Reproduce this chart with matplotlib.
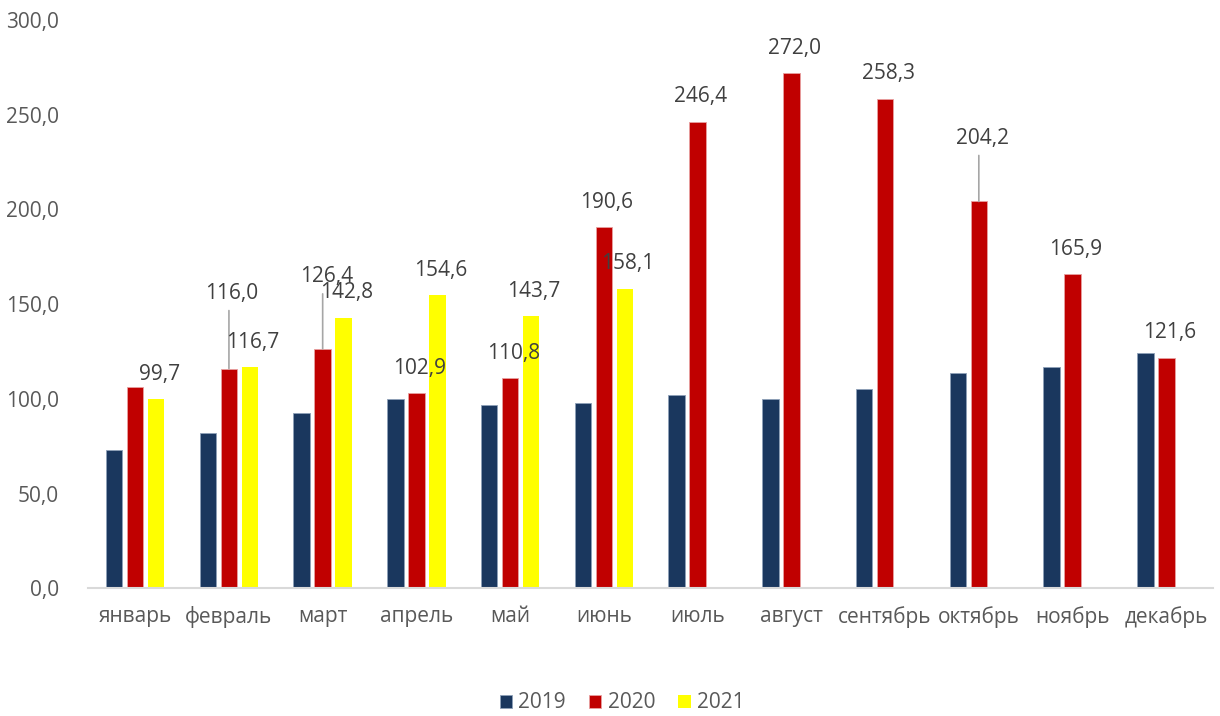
import numpy as np
import matplotlib.pyplot as plt

plt.rcParams['font.family'] = ['Open Sans', 'DejaVu Sans']

months = ['январь', 'февраль', 'март', 'апрель', 'май', 'июнь',
          'июль', 'август', 'сентябрь', 'октябрь', 'ноябрь', 'декабрь']
years = ['2019', '2020', '2021']

v2019 = [73.0, 81.8, 92.7, 99.9, 96.8, 98.0, 101.9, 99.8, 105.4, 113.8, 116.8, 124.1]
v2020 = [106.3, 116.0, 126.4, 102.9, 110.8, 190.6, 246.4, 272.0, 258.3, 204.2, 165.9, 121.6]
v2021 = [99.7, 116.7, 142.8, 154.6, 143.7, 158.1]

# which values carry a label (Jan 2020 has none on the chart)
labels_2020 = [None, 116.0, 126.4, 102.9, 110.8, 190.6, 246.4, 272.0, 258.3, 204.2, 165.9, 121.6]
labels_2021 = v2021

colors = ['#1a375e', '#c00000', '#ffff00']

# label offsets in pixels (dx, dy) for the ones moved off the bar, with leader line
moved_2020 = {1: (3, 75), 2: (4, 72), 9: (4, 63)}

fig = plt.figure(figsize=(12.2, 7.16), dpi=100)
ax = fig.add_axes([0.0724, 0.1783, 0.922, 0.7938])

x = np.arange(len(months))
step = 0.224
width = 0.176
fs = 15

b19 = ax.bar(x - step, v2019, width, color=colors[0], edgecolor='#8ea0b8', linewidth=0.6, label=years[0])
b20 = ax.bar(x, v2020, width, color=colors[1], edgecolor='#e8a0a0', linewidth=0.6, label=years[1])
b21 = ax.bar(x[:len(v2021)] + step, v2021, width, color=colors[2], linewidth=0, label=years[2])


def fmt(v):
    return f"{v:.1f}".replace('.', ',')


for i, v in enumerate(labels_2020):
    if v is None:
        continue
    dx, dy = moved_2020.get(i, (3, 25))
    ax.annotate(fmt(v), (x[i], v), xytext=(dx, dy), textcoords='offset pixels',
                ha='center', va='center', fontsize=fs, color='#404040')
    if i in moved_2020:
        ax.annotate('', (x[i], v), xytext=(0, dy - 17), textcoords='offset pixels',
                    arrowprops=dict(arrowstyle='-', color='#a6a6a6', lw=1.2,
                                    shrinkA=0, shrinkB=0))

for i, v in enumerate(labels_2021):
    ax.annotate(fmt(v), (x[i] + step, v), xytext=(3, 25), textcoords='offset pixels',
                ha='center', va='center', fontsize=fs, color='#404040')

ax.set_xlim(-0.5, len(months) - 0.5)
ax.set_ylim(0, 300)
ax.set_yticks(np.arange(0, 301, 50))
ax.set_yticklabels([fmt(t) for t in np.arange(0, 301, 50)])
ax.set_xticks(x)
ax.set_xticklabels(months)
ax.tick_params(axis='both', length=0, labelsize=fs, labelcolor='#595959')
ax.tick_params(axis='x', pad=13)
ax.tick_params(axis='y', pad=21)

for s in ['top', 'right', 'left']:
    ax.spines[s].set_visible(False)
ax.spines['bottom'].set_color('#d9d9d9')
ax.spines['bottom'].set_linewidth(1.5)

fig.legend(handles=[b19, b20, b21], labels=years, loc='center',
           bbox_to_anchor=(622 / 1220, 1 - 703 / 716), ncol=3, frameon=False,
           fontsize=fs, labelcolor='#595959', handlelength=0.6, handleheight=0.6,
           handletextpad=0.3, columnspacing=1.1)

fig.savefig('out.png', dpi=100)
